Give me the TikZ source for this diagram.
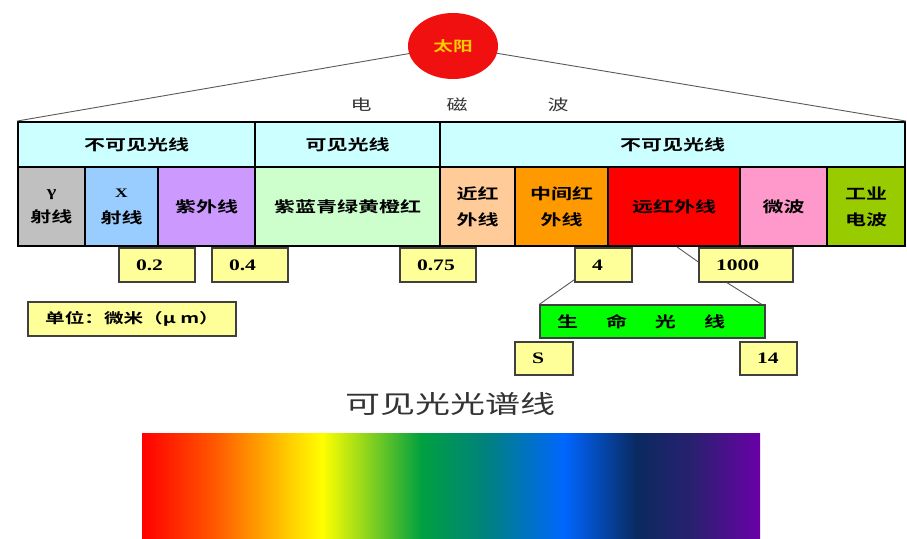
\documentclass[tikz,border=0pt]{standalone}
\usepackage{fontspec}
\setmainfont{Liberation Serif}
\newfontfamily\cjk[FakeStretch=1.4,BoldFont={Noto Sans CJK SC Bold}]{Noto Sans CJK SC}
\newfontfamily\numf[FakeStretch=1.35]{Liberation Serif}
\usetikzlibrary{shapes.geometric,calc}
\definecolor{topcyan}{HTML}{CCFFFF}
\definecolor{cgray}{HTML}{C0C0C0}
\definecolor{cblue}{HTML}{99CCFF}
\definecolor{cviolet}{HTML}{CC99FF}
\definecolor{cgreen}{HTML}{CCFFCC}
\definecolor{cpeach}{HTML}{FFCC99}
\definecolor{corange}{HTML}{FF9900}
\definecolor{cred}{HTML}{FF0000}
\definecolor{cpink}{HTML}{FF99CC}
\definecolor{cyg}{HTML}{99CC00}
\definecolor{valyellow}{HTML}{FFFF99}
\definecolor{lifegreen}{HTML}{00FF00}
\definecolor{sunred}{HTML}{F01010}
\definecolor{sunyellow}{HTML}{FFCC00}
\definecolor{titlegray}{HTML}{333333}
\definecolor{spA}{HTML}{FF0000}
\definecolor{spB}{HTML}{FF5A00}
\definecolor{spC}{HTML}{FFC000}
\definecolor{spD}{HTML}{FFFF00}
\definecolor{spE}{HTML}{00A040}
\definecolor{spF}{HTML}{008080}
\definecolor{spG}{HTML}{0066FF}
\definecolor{spH}{HTML}{0A2A60}
\definecolor{spI}{HTML}{2A2070}
\definecolor{spJ}{HTML}{6A00A8}
\begin{document}
\begin{tikzpicture}[x=1pt,y=-1pt,
  cell/.style={draw=black, line width=1.9pt, inner sep=0pt, align=center,
    font=\cjk\bfseries\fontsize{15}{26}\selectfont},
  valbox/.style={draw=black!75, line width=1.3pt, fill=valyellow, inner xsep=17pt,
    inner ysep=0pt, minimum height=34pt, align=left,
    font=\numf\bfseries\fontsize{16}{18}\selectfont},
  conn/.style={draw=black!65, line width=0.9pt},
  wave/.style={font=\cjk\fontsize{15}{17}\selectfont, text=titlegray, inner sep=0pt}
]
\useasboundingbox (0,0) rectangle (907,538);

% sun
\node[ellipse, fill=sunred, minimum width=90pt, minimum height=66pt, inner sep=0pt,
  text=sunyellow, font=\cjk\bfseries\fontsize{14}{16}\selectfont] (sun) at (453,46) {太阳};

\node[wave] (w1) at (361,105) {电};
\node[wave] (w2) at (457,105) {磁};
\node[wave] (w3) at (558,105) {波};

% top row
\node[cell, fill=topcyan, minimum width=237pt, minimum height=45pt] (inv1) at (136.5,144.5) {不可见光线};
\node[cell, fill=topcyan, minimum width=185pt, minimum height=45pt] (vis) at (347.5,144.5) {可见光线};
\node[cell, fill=topcyan, minimum width=465pt, minimum height=45pt] (inv2) at (672.5,144.5) {不可见光线};

\draw[conn] (sun) -- (inv1.north west);
\draw[conn] (sun) -- (inv2.north east);

% second row
\node[cell, fill=cgray, minimum width=67pt, minimum height=79pt] (gam) at (51.5,206.5)
  {{\numf\bfseries\fontsize{15}{16}\selectfont γ}\\射线};
\node[cell, fill=cblue, minimum width=73pt, minimum height=79pt] (xr) at (121.5,206.5)
  {{\numf\bfseries\fontsize{13}{14}\selectfont X}\\射线};
\node[cell, fill=cviolet, minimum width=97pt, minimum height=79pt] (uv) at (206.5,206.5) {紫外线};
\node[cell, fill=cgreen, minimum width=185pt, minimum height=79pt] (vl) at (347.5,206.5) {紫蓝青绿黄橙红};
\node[cell, fill=cpeach, minimum width=75pt, minimum height=79pt] (nir) at (477.5,206.5) {近红\\外线};
\node[cell, fill=corange, minimum width=93pt, minimum height=79pt] (mir) at (561.5,206.5) {中间红\\外线};
\node[cell, fill=cred, minimum width=132pt, minimum height=79pt] (fir) at (674,206.5) {远红外线};
\node[cell, fill=cpink, minimum width=87pt, minimum height=79pt] (mw) at (783.5,206.5) {微波};
\node[cell, fill=cyg, minimum width=78pt, minimum height=79pt] (ind) at (866,206.5) {工业\\电波};

% value boxes
\node[valbox, text width=42pt] (v02) at (157,265) {0.2};
\node[valbox, text width=42pt] (v04) at (250,265) {0.4};
\node[valbox, text width=42pt] (v075) at (438,265) {0.75};
\node[valbox, text width=23pt] (v4) at (603.5,265) {4};
\node[valbox, text width=60pt] (v1000) at (746,265) {1000};

% unit
\node[draw=black!75, line width=1.3pt, fill=valyellow, minimum width=208pt, minimum height=34pt,
  inner sep=0pt, font=\cjk\bfseries\fontsize{14}{16}\selectfont] (unit) at (132,319) {单位：微米（μ m）};

% life rays
\node[draw=black!75, line width=1.3pt, fill=lifegreen, minimum height=33pt, inner xsep=17pt,
  inner ysep=0pt, text width=191pt, align=left,
  font=\cjk\bfseries\fontsize{15}{17}\selectfont] (life) at (652.5,321.5)
  {生\hspace{28pt}命\hspace{28pt}光\hspace{28pt}线};

\node[valbox, text width=24pt, minimum height=33pt] (vS) at (544,358.5) {S};
\node[valbox, text width=23pt, minimum height=33pt] (v14) at (768.5,358.5) {14};

\draw[conn] ($(v4.south west)+(0,-3)$) -- (life.north west);
\draw[conn] ($(fir.south)+(3,0)$) -- ($(v1000.west)+(0,-3)$);
\draw[conn] ($(v1000.south west)!0.3!(v1000.south east)$) -- ($(life.north east)+(-4,0)$);

% title
\node[font=\cjk\fontsize{25}{28}\selectfont, text=titlegray, inner sep=0pt] (title) at (450,404) {可见光光谱线};

% spectrum
\shade[left color=spA, right color=spB] (142,433) rectangle (216.5,538);
\shade[left color=spB, right color=spC] (216,433) rectangle (280.5,538);
\shade[left color=spC, right color=spD] (280,433) rectangle (322.5,538);
\shade[left color=spD, right color=spE] (322,433) rectangle (421.5,538);
\shade[left color=spE, right color=spF] (421,433) rectangle (488.5,538);
\shade[left color=spF, right color=spG] (488,433) rectangle (564.5,538);
\shade[left color=spG, right color=spH] (564,433) rectangle (636.5,538);
\shade[left color=spH, right color=spI] (636,433) rectangle (694.5,538);
\shade[left color=spI, right color=spJ] (694,433) rectangle (760,538);
\end{tikzpicture}
\end{document}
